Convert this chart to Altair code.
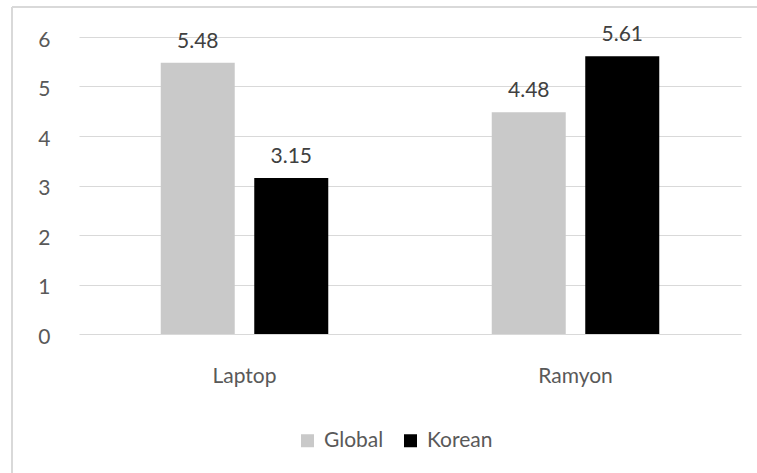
import altair as alt
import pandas as pd

categories = ["Laptop", "Ramyon"]
series = ["Global", "Korean"]
global_values = [5.48, 4.48]
korean_values = [3.15, 5.61]
colors = ["#c9c9c9", "#000000"]
y_ticks = [0, 1, 2, 3, 4, 5, 6]

rows = []
for c, g, k in zip(categories, global_values, korean_values):
    rows.append({"category": c, "series": "Global", "value": g, "label": f"{g:.2f}"})
    rows.append({"category": c, "series": "Korean", "value": k, "label": f"{k:.2f}"})
df = pd.DataFrame(rows)

FONT = "Lato"
TXT = "#595959"

x_enc = alt.X("category:N", sort=categories, title=None,
              scale=alt.Scale(paddingInner=0, paddingOuter=0),
              axis=alt.Axis(labelAngle=0, domain=False, ticks=False, tickSize=0,
                            labelPadding=31, labelFontSize=21, labelFont=FONT,
                            labelColor=TXT, grid=False))
xo_enc = alt.XOffset("series:N", sort=series,
                     scale=alt.Scale(paddingInner=0.2086, paddingOuter=0.874))
y_enc = alt.Y("value:Q", title=None,
              scale=alt.Scale(domain=[0, 6], nice=False, zero=True),
              axis=alt.Axis(values=y_ticks, domain=False, ticks=False, tickSize=0,
                            labelPadding=29, labelFontSize=21, labelFont=FONT,
                            labelColor=TXT, labelOffset=3, gridColor="#d9d9d9",
                            gridWidth=1.2))

bars = alt.Chart(df).mark_bar().encode(
    x=x_enc, xOffset=xo_enc, y=y_enc,
    color=alt.Color("series:N", sort=series,
                    scale=alt.Scale(domain=series, range=colors),
                    legend=alt.Legend(title=None, orient="none", direction="horizontal",
                                      legendX=218, legendY=393, symbolType="square",
                                      symbolSize=169, symbolStrokeWidth=0,
                                      labelFontSize=21, labelFont=FONT, labelColor=TXT,
                                      labelOffset=6, columnPadding=16, padding=0)),
)

labels = alt.Chart(df).mark_text(
    baseline="alphabetic", dy=-15, fontSize=21, font=FONT, color="#404040"
).encode(x=alt.X("category:N", sort=categories), xOffset=alt.XOffset("series:N", sort=series),
         y="value:Q", text="label:N")

border_top = alt.Chart(df).mark_rule(color="#d9d9d9", strokeWidth=1.5, clip=False).encode(
    x=alt.value(-67), x2=alt.value(700), y=alt.value(-30))
border_left = alt.Chart(df).mark_rule(color="#d9d9d9", strokeWidth=1.5, clip=False).encode(
    x=alt.value(-67), y=alt.value(-30), y2=alt.value(460))

chart = alt.layer(border_top, border_left, bars, labels).properties(
    width=662, height=297,
    autosize=alt.AutoSizeParams(type="none"),
    padding={"left": 79, "top": 37, "right": 16, "bottom": 139},
    background="white",
).configure_view(stroke=None)

chart.save("out.html", embed_options={"renderer": "svg", "actions": False})
